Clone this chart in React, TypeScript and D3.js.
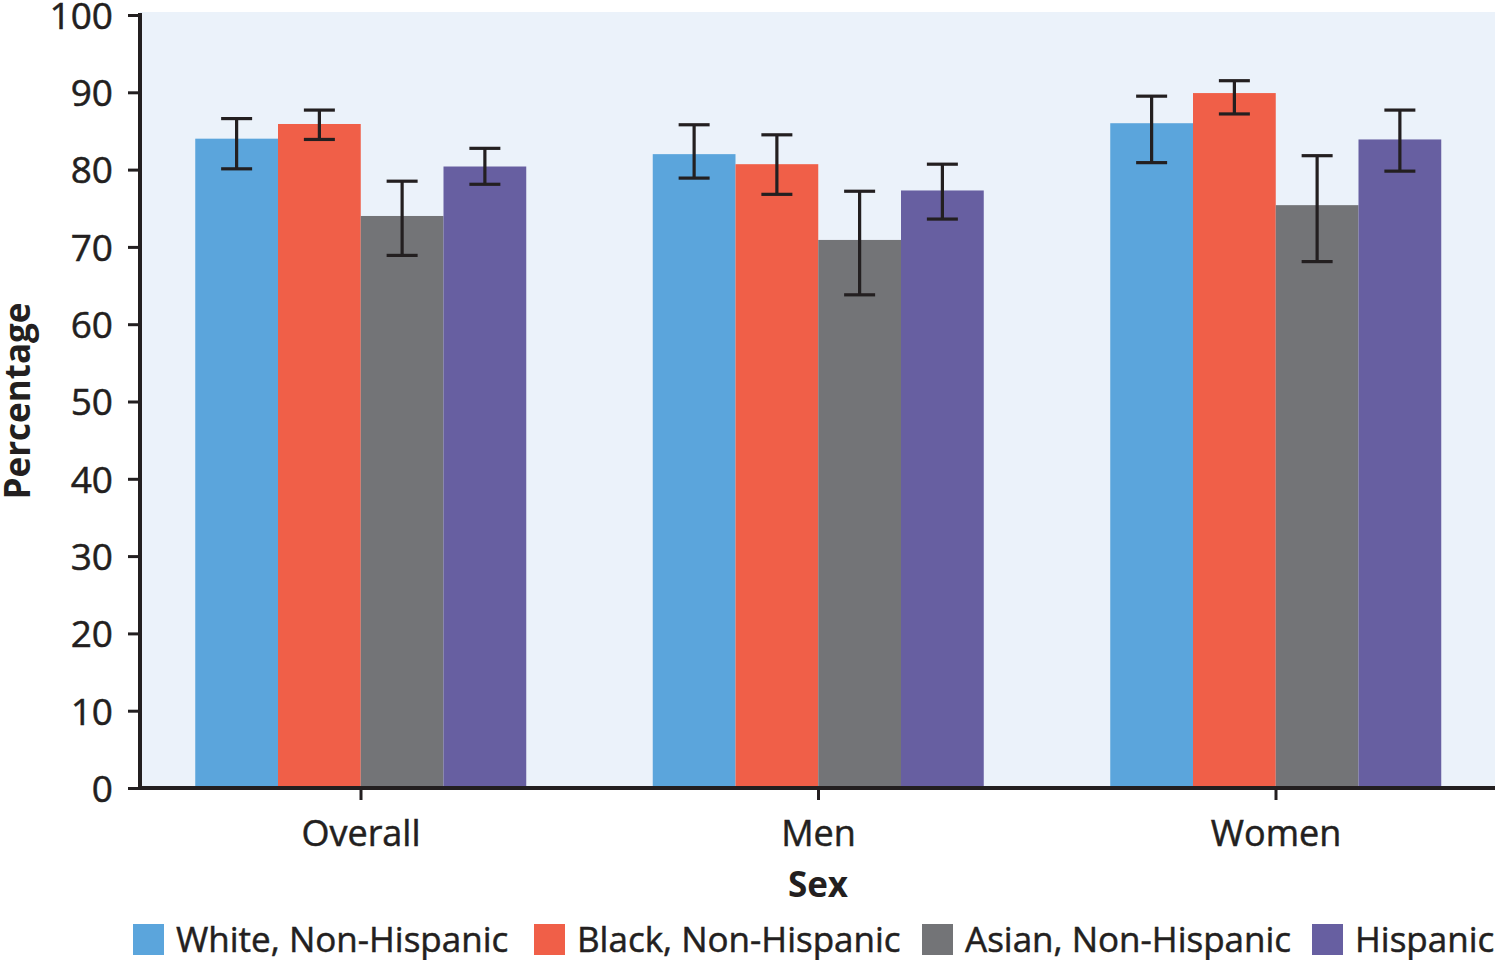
import React, { useEffect, useRef } from "react";
import * as d3 from "d3";

const categories = ["Overall", "Men", "Women"];
const seriesNames = ["White, Non-Hispanic", "Black, Non-Hispanic", "Asian, Non-Hispanic", "Hispanic"];
const seriesColors = ["#5BA5DC", "#F05F48", "#737477", "#675FA1"];
const whiteVals = [84.0, 82.0, 86.0];
const whiteLo = [80.1, 78.9, 80.9];
const whiteHi = [86.6, 85.8, 89.5];
const blackVals = [85.9, 80.7, 89.9];
const blackLo = [83.9, 76.8, 87.2];
const blackHi = [87.7, 84.5, 91.5];
const asianVals = [74.0, 70.9, 75.4];
const asianLo = [68.9, 63.8, 68.1];
const asianHi = [78.5, 77.2, 81.8];
const hispVals = [80.4, 77.3, 83.9];
const hispLo = [78.1, 73.6, 79.8];
const hispHi = [82.75, 80.7, 87.7];
const yTicks = [0, 10, 20, 30, 40, 50, 60, 70, 80, 90, 100];

const FONT = "'Open Sans', 'Noto Sans', sans-serif";
const INK = "#231F20";

export default function App() {
  const ref = useRef<SVGSVGElement>(null);
  useEffect(() => {
    const svg = d3.select(ref.current);
    svg.selectAll("*").remove();
    const left = 140, right = 1495, top = 15, bottom = 788;
    const y = d3.scaleLinear().domain([0, 100]).range([bottom, top]);
    const x = d3.scaleBand().domain(categories).range([132.25, 1504.75]).paddingInner(0).paddingOuter(0);
    const x1 = d3.scaleBand().domain(seriesNames).range([63, 394]).padding(0);

    svg.append("rect").attr("x", left).attr("y", 12).attr("width", right - left).attr("height", bottom - 12).attr("fill", "#EBF2FA");

    const series = [
      { vals: whiteVals, lo: whiteLo, hi: whiteHi },
      { vals: blackVals, lo: blackLo, hi: blackHi },
      { vals: asianVals, lo: asianLo, hi: asianHi },
      { vals: hispVals, lo: hispLo, hi: hispHi },
    ];

    series.forEach((s, si) => {
      const g = svg.append("g");
      categories.forEach((c, ci) => {
        const bx = (x(c) as number) + (x1(seriesNames[si]) as number);
        const bw = x1.bandwidth();
        g.append("rect").attr("x", bx).attr("y", y(s.vals[ci])).attr("width", bw).attr("height", bottom - y(s.vals[ci])).attr("fill", seriesColors[si]);
      });
    });
    series.forEach((s, si) => {
      categories.forEach((c, ci) => {
        const cx = (x(c) as number) + (x1(seriesNames[si]) as number) + x1.bandwidth() / 2;
        const cap = 15.5;
        svg.append("line").attr("x1", cx).attr("x2", cx).attr("y1", y(s.hi[ci])).attr("y2", y(s.lo[ci])).attr("stroke", INK).attr("stroke-width", 3.2);
        svg.append("line").attr("x1", cx - cap).attr("x2", cx + cap).attr("y1", y(s.hi[ci])).attr("y2", y(s.hi[ci])).attr("stroke", INK).attr("stroke-width", 3.2);
        svg.append("line").attr("x1", cx - cap).attr("x2", cx + cap).attr("y1", y(s.lo[ci])).attr("y2", y(s.lo[ci])).attr("stroke", INK).attr("stroke-width", 3.2);
      });
    });

    // Y axis
    const ya = svg.append("g").attr("transform", `translate(${left},0)`)
      .call(d3.axisLeft(y).tickValues(yTicks).tickSize(12).tickSizeOuter(0).tickPadding(15));
    ya.select(".domain").attr("stroke", INK).attr("stroke-width", 4).attr("d", `M0,${top - 2}V${bottom}`);
    ya.selectAll(".tick line").attr("stroke", INK).attr("stroke-width", 3);
    ya.selectAll(".tick text").attr("font-family", FONT).attr("font-size", 37).attr("fill", INK)
      .attr("stroke", INK).attr("stroke-width", 0.5).attr("dy", "0.36em");

    // X axis
    const xa = svg.append("g").attr("transform", `translate(0,${bottom})`)
      .call(d3.axisBottom(x).tickSize(12).tickSizeOuter(0).tickPadding(14));
    xa.select(".domain").attr("stroke", INK).attr("stroke-width", 4).attr("d", `M${left - 2},0H${right}`);
    xa.selectAll(".tick line").attr("stroke", INK).attr("stroke-width", 3);
    xa.selectAll(".tick text").attr("font-family", FONT).attr("font-size", 36).attr("fill", INK)
      .attr("stroke", INK).attr("stroke-width", 0.5).attr("dy", "0.88em");

    svg.append("text").attr("x", 818).attr("y", 897).attr("text-anchor", "middle").attr("font-family", FONT).attr("font-weight", "bold").attr("font-size", 35).attr("fill", INK).text("Sex");
    svg.append("text").attr("transform", "translate(30,401) rotate(-90)").attr("text-anchor", "middle").attr("font-family", FONT).attr("font-weight", "bold").attr("font-size", 35).attr("fill", INK).text("Percentage");

    const legX = [133, 534, 922, 1312];
    seriesNames.forEach((n, i) => {
      svg.append("rect").attr("x", legX[i]).attr("y", 924).attr("width", 31).attr("height", 31).attr("fill", seriesColors[i]);
      svg.append("text").attr("x", legX[i] + 43).attr("y", 952).attr("font-family", FONT).attr("font-size", 35)
        .attr("stroke", INK).attr("stroke-width", 0.5).attr("fill", INK).text(n);
    });
  }, []);
  return <svg ref={ref} width={1495} height={960} style={{ display: "block", position: "absolute", left: 0, top: 0 }} />;
}
